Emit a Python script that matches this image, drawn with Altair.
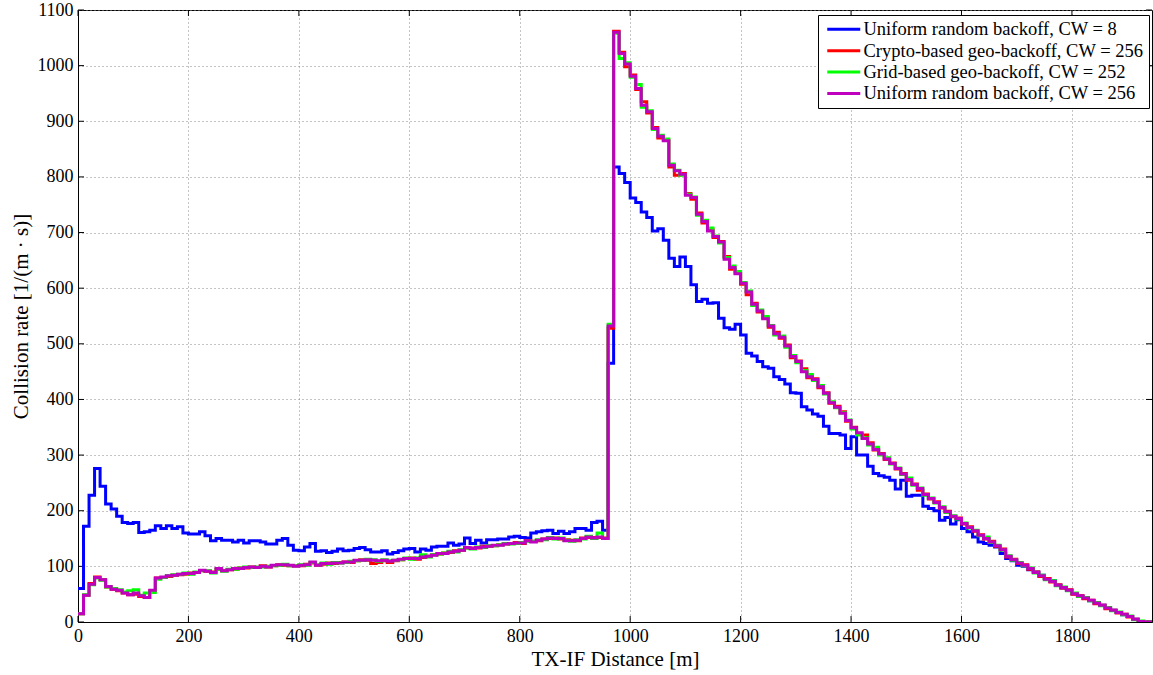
import altair as alt
import pandas as pd

names = [
    "Uniform random backoff, CW = 8",
    "Crypto-based geo-backoff, CW = 256",
    "Grid-based geo-backoff, CW = 252",
    "Uniform random backoff, CW = 256",
]
colors = ["#0000ff", "#ff0000", "#00ff00", "#bf00bf"]

bin_width = 10
x_end = 1945

blue = [
    60, 172, 228, 276, 244, 212, 203, 190, 179, 177,
    179, 161, 162, 165, 173, 168, 173, 168, 171, 160,
    158, 158, 162, 155, 146, 150, 147, 147, 144, 147,
    142, 146, 146, 144, 140, 140, 147, 150, 138, 129,
    128, 135, 141, 127, 128, 125, 127, 131, 128, 129,
    132, 134, 130, 126, 126, 128, 122, 125, 128, 131,
    132, 126, 131, 129, 135, 136, 136, 142, 138, 140,
    151, 141, 147, 142, 148, 148, 149, 149, 153, 154,
    152, 151, 160, 162, 164, 165, 159, 163, 159, 162,
    168, 168, 165, 179, 181, 165, 465, 818, 806, 790,
    762, 754, 737, 727, 703, 707, 686, 654, 639, 656,
    639, 606, 576, 580, 573, 574, 546, 529, 526, 535,
    516, 483, 478, 468, 459, 456, 441, 436, 428, 412,
    411, 387, 381, 374, 370, 352, 339, 339, 336, 312,
    333, 300, 300, 280, 267, 263, 260, 255, 239, 255,
    226, 228, 228, 208, 204, 200, 183, 188, 176, 184,
    168, 162, 153, 144, 141, 138, 135, 123, 114, 110,
    102, 100, 94, 90, 84, 78, 74, 66, 61, 57,
    51, 46, 43, 38, 34, 30, 25, 21, 17, 13,
    10, 5, 1, 0,
]

red = [
    15, 48, 69, 81, 76, 63, 59, 56, 52, 49,
    50, 46, 44, 56, 79, 80, 82, 84, 85, 86,
    88, 89, 92, 91, 90, 95, 92, 94, 95, 97,
    97, 99, 98, 101, 99, 101, 103, 102, 101, 101,
    101, 104, 106, 102, 104, 106, 105, 107, 108, 107,
    110, 112, 111, 105, 107, 110, 107, 110, 112, 114,
    115, 113, 116, 118, 121, 122, 124, 125, 128, 129,
    133, 133, 133, 136, 136, 137, 139, 140, 141, 143,
    141, 146, 145, 146, 149, 150, 151, 149, 148, 147,
    146, 151, 152, 152, 152, 151, 528, 1062, 1024, 998,
    983, 957, 935, 915, 889, 870, 866, 818, 803, 806,
    770, 760, 735, 717, 705, 691, 684, 657, 634, 627,
    607, 588, 573, 557, 547, 530, 521, 510, 498, 475,
    469, 455, 439, 437, 421, 412, 393, 388, 378, 361,
    350, 338, 336, 322, 309, 303, 292, 286, 275, 267,
    255, 248, 237, 230, 221, 216, 205, 199, 189, 187,
    176, 171, 163, 157, 149, 145, 136, 131, 117, 113,
    105, 103, 95, 90, 82, 78, 72, 67, 61, 58,
    50, 47, 42, 39, 33, 30, 24, 21, 16, 14,
    9, 5, 1, 0,
]

green = [
    15, 49, 67, 79, 75, 63, 60, 58, 54, 56,
    58, 48, 52, 53, 77, 80, 83, 85, 86, 88,
    86, 90, 92, 92, 88, 95, 91, 95, 95, 97,
    99, 98, 99, 99, 100, 101, 102, 104, 101, 101,
    103, 102, 107, 103, 106, 104, 107, 106, 107, 109,
    110, 111, 113, 112, 109, 112, 110, 111, 112, 115,
    113, 115, 121, 117, 121, 122, 124, 127, 126, 130,
    133, 131, 135, 134, 137, 137, 139, 141, 140, 141,
    143, 145, 145, 148, 148, 152, 149, 151, 147, 145,
    148, 149, 154, 150, 160, 150, 535, 1058, 1013, 1005,
    979, 966, 925, 919, 885, 875, 868, 823, 812, 803,
    769, 764, 731, 722, 708, 694, 681, 655, 640, 630,
    610, 595, 569, 561, 549, 533, 516, 514, 494, 479,
    466, 452, 445, 434, 425, 410, 396, 385, 376, 363,
    347, 336, 331, 318, 314, 300, 295, 284, 277, 265,
    259, 246, 241, 228, 223, 214, 207, 197, 191, 185,
    178, 169, 165, 155, 153, 143, 138, 129, 119, 111,
    107, 101, 97, 88, 84, 76, 74, 65, 63, 56,
    52, 46, 44, 38, 35, 29, 26, 20, 18, 13,
    11, 4, 2, 0,
]

magenta = [
    15, 48, 68, 80, 76, 64, 59, 57, 52, 49,
    52, 47, 44, 57, 79, 81, 83, 84, 86, 87,
    87, 89, 93, 91, 89, 96, 92, 94, 96, 96,
    98, 99, 98, 100, 99, 102, 103, 103, 102, 100,
    102, 103, 108, 102, 105, 105, 106, 106, 108, 108,
    111, 111, 112, 111, 110, 111, 109, 111, 113, 114,
    114, 114, 117, 118, 120, 123, 123, 126, 127, 129,
    134, 132, 134, 135, 136, 138, 138, 140, 141, 142,
    142, 146, 144, 147, 149, 151, 150, 150, 146, 146,
    147, 150, 153, 151, 153, 150, 532, 1060, 1022, 1003,
    981, 959, 929, 917, 887, 873, 865, 821, 811, 805,
    767, 763, 733, 720, 703, 693, 683, 652, 637, 626,
    609, 593, 571, 559, 545, 532, 518, 512, 496, 477,
    468, 450, 441, 436, 423, 411, 394, 386, 375, 362,
    349, 340, 330, 320, 310, 302, 293, 285, 276, 266,
    256, 247, 240, 229, 222, 215, 206, 198, 190, 186,
    177, 170, 164, 156, 150, 144, 137, 130, 118, 112,
    106, 102, 96, 89, 83, 77, 73, 66, 62, 57,
    51, 47, 43, 39, 34, 30, 25, 21, 17, 14,
    10, 5, 1, 0,
]

x_ticks = [0, 200, 400, 600, 800, 1000, 1200, 1400, 1600, 1800]
y_ticks = [0, 100, 200, 300, 400, 500, 600, 700, 800, 900, 1000, 1100]

series_values = [blue, red, green, magenta]
rows = []
for name, vals in zip(names, series_values):
    xs = [i * bin_width for i in range(len(vals))] + [x_end]
    ys = list(vals) + [vals[-1]]
    for xv, yv in zip(xs, ys):
        rows.append({"x": xv, "y": yv, "series": name})
df = pd.DataFrame(rows)

W, H = 1074, 612
FONT = "Liberation Serif"

xaxis = alt.Axis(
    values=x_ticks, title="TX-IF Distance [m]", grid=True, tickSize=0,
    labelPadding=5, labelFlush=False, titlePadding=3, format="d",
)
yaxis = alt.Axis(
    values=y_ticks, title="Collision rate [1/(m · s)]", grid=True, tickSize=0,
    labelPadding=5, labelFlush=False, titlePadding=6, format="d",
)
xscale = alt.Scale(domain=[0, x_end], nice=False, zero=False)
yscale = alt.Scale(domain=[0, 1100], nice=False, zero=False)

legend = alt.Legend(
    title=None, orient="none", legendX=740, legendY=5,
    fillColor="white", strokeColor="black", padding=5,
    symbolType="M-1,0H5.6", symbolStrokeWidth=3, symbolSize=100,
    labelFont=FONT, labelFontSize=18.5, labelColor="black",
    rowPadding=2.4, labelOffset=22, labelLimit=400,
)

base = alt.Chart(df).mark_line(interpolate="step-after", strokeWidth=3, clip=True).encode(
    x=alt.X("x:Q", scale=xscale, axis=xaxis),
    y=alt.Y("y:Q", scale=yscale, axis=yaxis),
    color=alt.Color("series:N", scale=alt.Scale(domain=names, range=colors), legend=legend),
)
line_layers = [base.transform_filter(alt.datum.series == n) for n in names]

xt = pd.DataFrame({"x": x_ticks})
yt = pd.DataFrame({"y": y_ticks})
tick_bottom = alt.Chart(xt).mark_rule(color="black", strokeWidth=1).encode(
    x=alt.X("x:Q", scale=xscale, axis=xaxis), y=alt.value(H), y2=alt.value(H - 6))
tick_top = alt.Chart(xt).mark_rule(color="black", strokeWidth=1).encode(
    x=alt.X("x:Q", scale=xscale, axis=xaxis), y=alt.value(0), y2=alt.value(6))
tick_left = alt.Chart(yt).mark_rule(color="black", strokeWidth=1).encode(
    y=alt.Y("y:Q", scale=yscale, axis=yaxis), x=alt.value(0), x2=alt.value(6))
tick_right = alt.Chart(yt).mark_rule(color="black", strokeWidth=1).encode(
    y=alt.Y("y:Q", scale=yscale, axis=yaxis), x=alt.value(W), x2=alt.value(W - 6))

chart = alt.layer(
    tick_bottom, tick_top, tick_left, tick_right, *line_layers
).properties(
    width=W, height=H,
    autosize=alt.AutoSizeParams(type="none"),
    padding={"left": 78, "top": 10, "right": 1, "bottom": 53},
    background="white",
).configure_view(
    stroke="black", strokeWidth=1,
).configure_axis(
    labelFont=FONT, titleFont=FONT, labelFontSize=18, titleFontSize=21,
    labelColor="black", titleColor="black", titleFontWeight="normal",
    domainColor="black", domainWidth=1,
    gridColor="#888888", gridDash=[1, 3], gridOpacity=1, gridWidth=1,
)

chart.save("out.html", embed_options={"renderer": "svg", "actions": False})
